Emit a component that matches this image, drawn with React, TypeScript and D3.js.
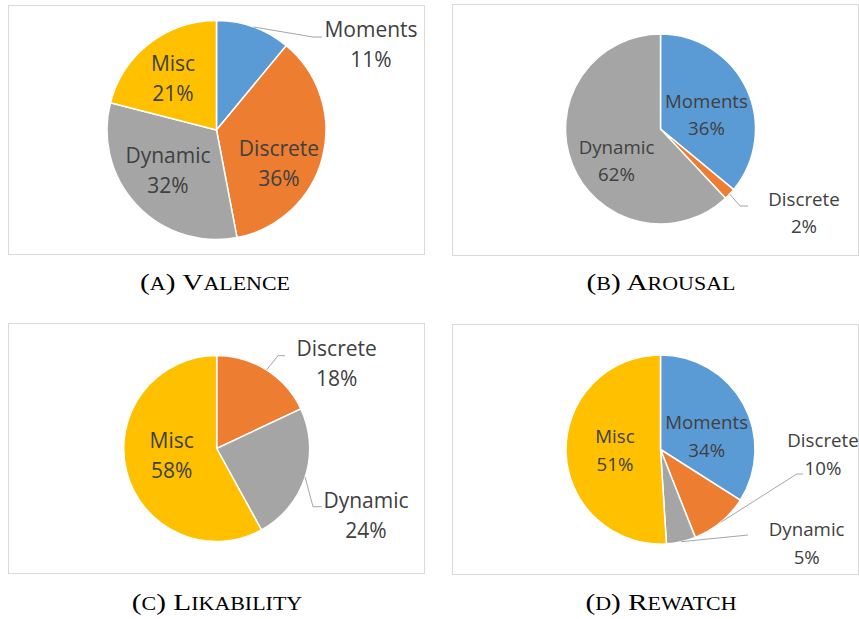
import React from "react";
import * as d3 from "d3";

// categories and values (percent)
const categories = ["Moments", "Discrete", "Dynamic", "Misc"];
const valence = [11, 36, 32, 21];
const arousal = [36, 2, 62, 0];
const likability = [0, 18, 24, 58];
const rewatch = [34, 10, 5, 51];

const colors: Record<string, string> = {
  Moments: "#5B9BD5",
  Discrete: "#ED7D31",
  Dynamic: "#A5A5A5",
  Misc: "#FFC000",
};

// caption parts: [letter, first capital, rest]
const captions = [
  ["A", "V", "ALENCE"],
  ["B", "A", "ROUSAL"],
  ["C", "L", "IKABILITY"],
  ["D", "R", "EWATCH"],
];

interface LabelPos {
  dx: number;
  dy: number;
  // leader line elbow and end, relative to pie centre (outside labels only)
  elbow?: [number, number];
  end?: [number, number];
}

interface Panel {
  values: number[];
  box: [number, number, number, number];
  cx: number;
  cy: number;
  r: number;
  font: number;
  gap: number;
  labels: Record<string, LabelPos>;
  caption: string[];
  capX: number;
  capY: number;
}

const panels: Panel[] = [
  {
    values: valence,
    box: [8.5, 5.5, 416, 249],
    cx: 216.5,
    cy: 130,
    r: 109.5,
    font: 21,
    gap: 30,
    labels: {
      Moments: { dx: 154.5, dy: -86, elbow: [96.5, -93], end: [105.5, -93] },
      Discrete: { dx: 62.5, dy: 32.5 },
      Dynamic: { dx: -48.5, dy: 40 },
      Misc: { dx: -43.5, dy: -52 },
    },
    caption: captions[0],
    capX: 215,
    capY: 290,
  },
  {
    values: arousal,
    box: [452.5, 4.5, 406, 251],
    cx: 660.5,
    cy: 129,
    r: 95,
    font: 18.7,
    gap: 27,
    labels: {
      Moments: { dx: 46, dy: -15.5 },
      Discrete: { dx: 143.5, dy: 82, elbow: [79.5, 77], end: [87.5, 77] },
      Dynamic: { dx: -44, dy: 30.5 },
    },
    caption: captions[1],
    capX: 661,
    capY: 290,
  },
  {
    values: likability,
    box: [8.5, 323.5, 416, 250],
    cx: 216.7,
    cy: 448.5,
    r: 93,
    font: 21,
    gap: 30,
    labels: {
      Discrete: { dx: 120, dy: -85.8, elbow: [61.3, -92.8], end: [68.3, -92.8] },
      Dynamic: { dx: 149.3, dy: 66.5, elbow: [96.3, 58.2], end: [105, 58.2] },
      Misc: { dx: -45, dy: 6.5 },
    },
    caption: captions[2],
    capX: 217,
    capY: 610,
  },
  {
    values: rewatch,
    box: [452.5, 324.5, 406, 250],
    cx: 660.5,
    cy: 449.5,
    r: 94.5,
    font: 18.7,
    gap: 28,
    labels: {
      Moments: { dx: 46.2, dy: -14.5 },
      Discrete: { dx: 162.5, dy: 3.9, elbow: [136.2, 24.5], end: [142.5, 24.5] },
      Dynamic: { dx: 146.2, dy: 92.8, elbow: [87.5, 85.5], end: [87.5, 85.5] },
      Misc: { dx: -45.5, dy: -0.2 },
    },
    caption: captions[3],
    capX: 661,
    capY: 610,
  },
];

interface Slice {
  name: string;
  value: number;
}

function PiePanel({ p }: { p: Panel }) {
  const data: Slice[] = categories
    .map((name, i) => ({ name, value: p.values[i] }))
    .filter((d) => d.value > 0);

  const pie = d3
    .pie<Slice>()
    .value((d) => d.value)
    .sort(null);
  const arcs = pie(data);
  const total = d3.sum(data, (d) => d.value);

  const arc = d3.arc<d3.PieArcDatum<Slice>>().innerRadius(0).outerRadius(p.r);
  const edge = d3.arc<d3.PieArcDatum<Slice>>().innerRadius(p.r).outerRadius(p.r);

  const [bx, by, bw, bh] = p.box;
  const [letter, first, rest] = p.caption;
  const small = 18;

  return (
    <g>
      <rect x={bx} y={by} width={bw} height={bh} fill="#fff" stroke="#D9D9D9" />
      <g transform={`translate(${p.cx},${p.cy})`}>
        {arcs.map((a) => (
          <path
            key={a.data.name}
            d={arc(a) || ""}
            fill={colors[a.data.name]}
            stroke="#fff"
            strokeWidth={1.5}
            strokeLinejoin="round"
          />
        ))}
        {arcs.map((a) => {
          const lp = p.labels[a.data.name];
          if (!lp || !lp.elbow) return null;
          const [sx, sy] = edge.centroid(a);
          const pts = [[sx, sy], lp.elbow, lp.end || lp.elbow];
          return (
            <path
              key={"l" + a.data.name}
              d={d3.line()(pts as [number, number][]) || ""}
              fill="none"
              stroke="#A6A6A6"
              strokeWidth={1}
            />
          );
        })}
        {arcs.map((a) => {
          const lp = p.labels[a.data.name];
          if (!lp) return null;
          const pct = d3.format(".0%")(a.data.value / total);
          return (
            <text
              key={"t" + a.data.name}
              x={lp.dx}
              textAnchor="middle"
              dominantBaseline="central"
              fontFamily="'Open Sans', sans-serif"
              fontSize={p.font}
              fill="#404040"
            >
              <tspan x={lp.dx} y={lp.dy - p.gap / 2}>
                {a.data.name}
              </tspan>
              <tspan x={lp.dx} y={lp.dy + p.gap / 2}>
                {pct}
              </tspan>
            </text>
          );
        })}
      </g>
      <g transform={`translate(${p.capX},${p.capY}) scale(1.22,1)`}>
        <text
          textAnchor="middle"
          fontFamily="'Liberation Serif', serif"
          fontSize={24}
          fill="#000"
        >
          (<tspan fontSize={small}>{letter}</tspan>) {first}
          <tspan fontSize={small}>{rest}</tspan>
        </text>
      </g>
    </g>
  );
}

export default function App() {
  return (
    <svg
      width={859}
      height={619}
      style={{ position: "absolute", left: 0, top: 0, background: "#fff" }}
    >
      {panels.map((p, i) => (
        <PiePanel key={i} p={p} />
      ))}
    </svg>
  );
}
